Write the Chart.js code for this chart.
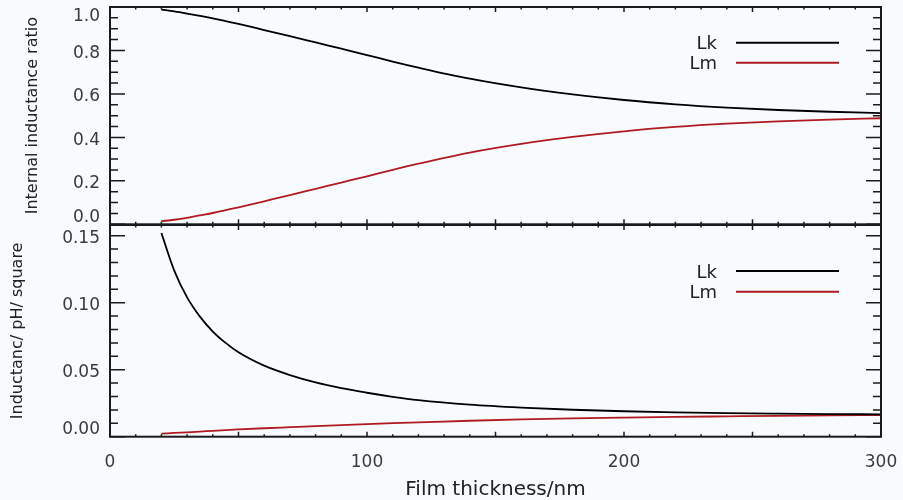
<!DOCTYPE html>
<html>
<head>
<meta charset="utf-8">
<script src="https://cdn.jsdelivr.net/npm/chart.js@4.4.1/dist/chart.umd.min.js"></script>
<style>
  body { margin: 0; background: #f7fbfd; }
  #wrap { position: relative; width: 903px; height: 500px; }
  .panel { position: absolute; left: 0; top: 0; width: 903px; }
  #topPanel { height: 232px; }
  #bottomPanel { height: 500px; }
</style>
</head>
<body>
<div id="wrap">
  <div class="panel" id="bottomPanel"><canvas id="inductanceChart"></canvas></div>
  <div class="panel" id="topPanel"><canvas id="ratioChart"></canvas></div>
</div>
<script>
const thickness = [20, 25, 30, 35, 40, 45, 50, 60, 70, 80, 90, 100, 110, 120, 140, 160, 180, 200, 220, 240, 260, 280, 300];

// top panel: internal inductance ratio
const lkRatio = [0.988, 0.980, 0.970, 0.959, 0.948, 0.935, 0.922, 0.894, 0.866, 0.837, 0.808, 0.779, 0.749, 0.721, 0.670, 0.630, 0.598, 0.572, 0.552, 0.537, 0.526, 0.518, 0.512];
const lmRatio = [0.014, 0.021, 0.030, 0.041, 0.052, 0.065, 0.078, 0.106, 0.134, 0.163, 0.192, 0.221, 0.251, 0.279, 0.330, 0.370, 0.402, 0.428, 0.448, 0.463, 0.474, 0.482, 0.488];

// bottom panel: inductance in pH/square
const lkInductance = [0.152, 0.124, 0.104, 0.0896, 0.0785, 0.070, 0.063, 0.053, 0.0460, 0.0405, 0.0362, 0.0328, 0.0298, 0.0273, 0.0239, 0.0217, 0.0201, 0.0190, 0.0182, 0.0176, 0.0172, 0.0169, 0.0167];
const lmInductance = [0.0023, 0.0028, 0.0033, 0.0038, 0.0044, 0.0049, 0.0054, 0.0063, 0.0071, 0.0079, 0.0086, 0.0094, 0.0101, 0.0107, 0.0119, 0.0129, 0.0137, 0.0143, 0.0148, 0.0152, 0.0156, 0.0159, 0.0161];

const thicknessTicks = [0, 100, 200, 300];
const ratioTicks = [0, 0.2, 0.4, 0.6, 0.8, 1.0];
const inductanceTicks = [0, 0.05, 0.10, 0.15];

const FONT = "'DejaVu Sans', sans-serif";
const LK_COLOR = "#000000";
const LM_COLOR = "#b01a20";

function toPoints(values) {
  return thickness.map((t, i) => ({ x: t, y: values[i] }));
}

function lineDataset(label, values, color) {
  return {
    label: label,
    data: toPoints(values),
    borderColor: color,
    backgroundColor: color,
    borderWidth: 1.8,
    pointRadius: 0,
    fill: false,
    cubicInterpolationMode: "monotone",
  };
}

// box with inward ticks and y labels, like the IDL plot
function framePlugin(cfg) {
  return {
    id: "frame",
    afterDatasetsDraw(chart) {
      const { ctx, chartArea: a, scales } = chart;
      const x = scales.x;
      const y = scales.y;
      ctx.save();
      ctx.strokeStyle = "#1a1a1a";
      ctx.lineWidth = 1.5;
      ctx.beginPath();
      const nx = Math.round((x.max - x.min) / cfg.xMinor);
      for (let i = 0; i <= nx; i++) {
        const px = x.getPixelForValue(x.min + i * cfg.xMinor);
        const len = i % cfg.xEvery === 0 ? 5 : 2.5;
        ctx.moveTo(px, a.bottom);
        ctx.lineTo(px, a.bottom - len);
        ctx.moveTo(px, a.top);
        ctx.lineTo(px, a.top + len);
      }
      const ny = Math.floor((y.max - y.min) / cfg.yMinor + 1e-6);
      for (let i = 0; i <= ny; i++) {
        const py = y.getPixelForValue(y.min + i * cfg.yMinor);
        const len = i % cfg.yEvery === 0 ? 15 : 8;
        ctx.moveTo(a.left, py);
        ctx.lineTo(a.left + len, py);
        ctx.moveTo(a.right, py);
        ctx.lineTo(a.right - len, py);
      }
      ctx.stroke();
      ctx.lineWidth = 2;
      ctx.strokeRect(a.left, a.top, a.right - a.left, a.bottom - a.top);

      ctx.fillStyle = "#3a3a3a";
      ctx.font = "17px " + FONT;
      ctx.textAlign = "right";
      ctx.textBaseline = "middle";
      cfg.yTicks.forEach((v) => {
        const py = y.getPixelForValue(v) + 3;
        const ty = Math.min(Math.max(py, a.top + 10), a.bottom - 7);
        ctx.fillText(v.toFixed(cfg.decimals), a.left - 10, ty);
      });
      ctx.restore();
    },
  };
}

// legend: label on the left, line sample on the right
function sideLegend(cfg) {
  return {
    id: "sideLegend",
    afterDraw(chart) {
      const ctx = chart.ctx;
      ctx.save();
      ctx.font = "18px " + FONT;
      ctx.textAlign = "right";
      ctx.textBaseline = "alphabetic";
      chart.data.datasets.forEach((ds, i) => {
        const ly = cfg.y + i * cfg.gap;
        ctx.fillStyle = "#222";
        ctx.fillText(ds.label, cfg.textRight, ly + 6.5);
        ctx.strokeStyle = ds.borderColor;
        ctx.lineWidth = 2;
        ctx.beginPath();
        ctx.moveTo(cfg.lineStart, ly);
        ctx.lineTo(cfg.lineEnd, ly);
        ctx.stroke();
      });
      ctx.restore();
    },
  };
}

function yTitle(text, left) {
  return {
    display: true,
    text: text,
    color: "#222",
    font: { family: FONT, size: 16, lineHeight: 1 },
    padding: { top: left, bottom: 0 },
  };
}

new Chart(document.getElementById("ratioChart"), {
  type: "line",
  data: {
    datasets: [
      lineDataset("Lk", lkRatio, LK_COLOR),
      lineDataset("Lm", lmRatio, LM_COLOR),
    ],
  },
  options: {
    responsive: true,
    maintainAspectRatio: false,
    animation: false,
    layout: { padding: { top: 7, right: 22, bottom: 7.7, left: 0 } },
    plugins: { legend: { display: false }, tooltip: { enabled: false } },
    scales: {
      x: { type: "linear", min: 0, max: 300, display: false },
      y: {
        min: 0,
        max: 1,
        grid: { display: false, drawTicks: false },
        border: { display: false },
        ticks: { display: false },
        afterFit: (s) => { s.width = 110; },
        title: yTitle("Internal inductance ratio", 25),
      },
    },
  },
  plugins: [
    framePlugin({ xMinor: 10, xEvery: 5, yMinor: 0.05, yEvery: 4, yTicks: ratioTicks, decimals: 1 }),
    sideLegend({ y: 42.7, gap: 20, textRight: 717, lineStart: 736, lineEnd: 839 }),
  ],
});

new Chart(document.getElementById("inductanceChart"), {
  type: "line",
  data: {
    datasets: [
      lineDataset("Lk", lkInductance, LK_COLOR),
      lineDataset("Lm", lmInductance, LM_COLOR),
    ],
  },
  options: {
    responsive: true,
    maintainAspectRatio: false,
    animation: false,
    layout: { padding: { top: 225, right: 22, bottom: 0, left: 0 } },
    plugins: { legend: { display: false }, tooltip: { enabled: false } },
    scales: {
      x: {
        type: "linear",
        min: 0,
        max: 300,
        grid: { display: false, drawTicks: false },
        border: { display: false },
        afterBuildTicks: (s) => { s.ticks = thicknessTicks.map((v) => ({ value: v })); },
        ticks: { color: "#3a3a3a", font: { family: FONT, size: 17 }, padding: 16, maxRotation: 0 },
        afterFit: (s) => {
          s.height = 63.3;
          s.paddingLeft = 0;
          s.paddingRight = 0;
        },
        title: {
          display: true,
          text: "Film thickness/nm",
          color: "#222",
          font: { family: FONT, size: 20, lineHeight: 1 },
          padding: { top: 0, bottom: 0 },
        },
      },
      y: {
        min: 0,
        max: 0.158,
        grid: { display: false, drawTicks: false },
        border: { display: false },
        ticks: { display: false },
        afterFit: (s) => { s.width = 110; },
        title: yTitle("Inductanc/ pH/ square", 10),
      },
    },
  },
  plugins: [
    framePlugin({ xMinor: 10, xEvery: 5, yMinor: 0.01, yEvery: 5, yTicks: inductanceTicks, decimals: 2 }),
    sideLegend({ y: 271, gap: 20.7, textRight: 717, lineStart: 736, lineEnd: 839 }),
  ],
});
</script>
</body>
</html>
